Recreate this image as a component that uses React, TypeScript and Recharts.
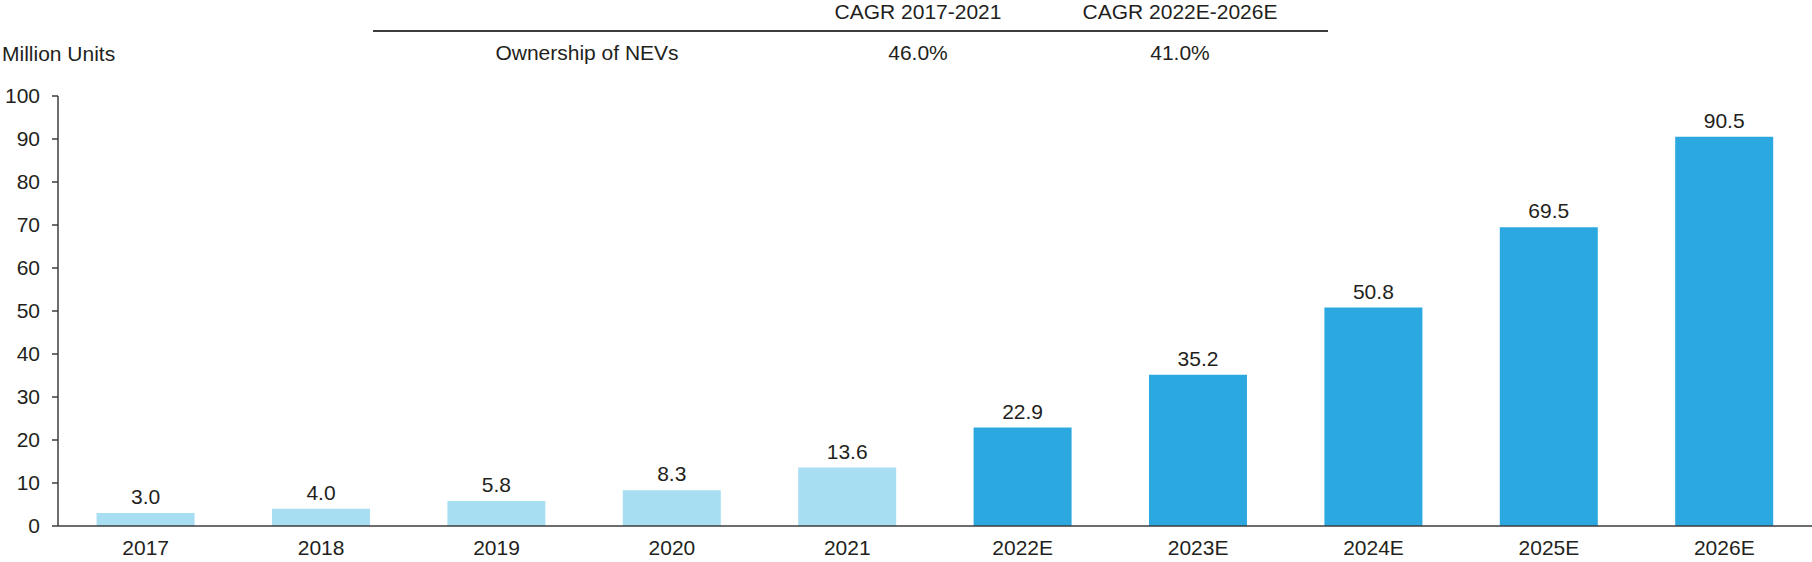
import { BarChart, Bar, XAxis, YAxis, Cell, LabelList } from 'recharts';

const years = ['2017', '2018', '2019', '2020', '2021', '2022E', '2023E', '2024E', '2025E', '2026E'];
const ownership = [3.0, 4.0, 5.8, 8.3, 13.6, 22.9, 35.2, 50.8, 69.5, 90.5];
const yTicks = [0, 10, 20, 30, 40, 50, 60, 70, 80, 90, 100];

const rowLabel = 'Ownership of NEVs';
const cagrHeaders = ['CAGR 2017-2021', 'CAGR 2022E-2026E'];
const cagrValues = ['46.0%', '41.0%'];

const FONT = '"Liberation Sans", Arial, Helvetica, sans-serif';
const TEXT = '#231f20';
const AXIS = '#3c3c3c';
const ACTUAL = '#a8def2';
const FORECAST = '#2ca8e0';

const data = years.map((year, i) => ({ year, value: ownership[i] }));

// column centres of the little CAGR table above the plot
const colX = [918, 1180];

export default function App() {
  return (
    <div style={{ position: 'absolute', left: 0, top: 0, width: 1812, height: 562, background: '#fff', fontFamily: FONT }}>
      <BarChart
        width={1812}
        height={562}
        data={data}
        margin={{ top: 96, right: 0, left: 0, bottom: 0 }}
        barCategoryGap="22%"
      >
        <XAxis
          dataKey="year"
          height={36}
          tickLine={false}
          tickMargin={8}
          axisLine={{ stroke: AXIS, strokeWidth: 1.5 }}
          tick={{ fontSize: 21, fill: TEXT, fontFamily: FONT }}
        />
        <YAxis
          width={58}
          domain={[0, 100]}
          ticks={yTicks}
          interval={0}
          tickSize={6}
          tickMargin={12}
          axisLine={{ stroke: AXIS, strokeWidth: 1.5 }}
          tickLine={{ stroke: AXIS, strokeWidth: 1.5 }}
          tick={{ fontSize: 21, fill: TEXT, fontFamily: FONT }}
        />
        <Bar dataKey="value" isAnimationActive={false}>
          {data.map((d) => (
            <Cell key={d.year} fill={d.year.endsWith('E') ? FORECAST : ACTUAL} />
          ))}
          <LabelList
            dataKey="value"
            position="top"
            offset={9}
            formatter={(v: number) => v.toFixed(1)}
            style={{ fontSize: 21, fill: TEXT, fontFamily: FONT }}
          />
        </Bar>
      </BarChart>

      <svg width={1812} height={100} style={{ position: 'absolute', left: 0, top: 0 }}>
        <g fontFamily={FONT} fontSize={21} fill={TEXT}>
          <text x={2} y={61}>Million Units</text>
          {cagrHeaders.map((h, i) => (
            <text key={h} x={colX[i]} y={19} textAnchor="middle">{h}</text>
          ))}
          <line x1={373} x2={1328} y1={31} y2={31} stroke={AXIS} strokeWidth={2} />
          <text x={587} y={60} textAnchor="middle">{rowLabel}</text>
          {cagrValues.map((v, i) => (
            <text key={v} x={colX[i]} y={60} textAnchor="middle">{v}</text>
          ))}
        </g>
      </svg>
    </div>
  );
}
